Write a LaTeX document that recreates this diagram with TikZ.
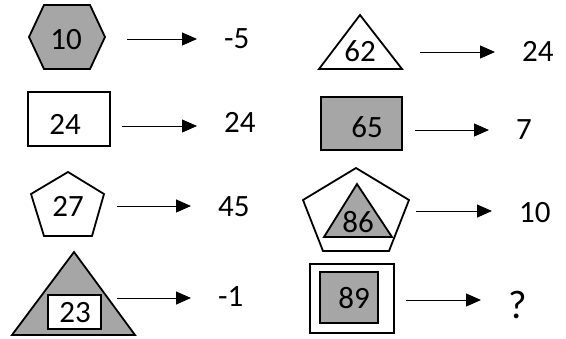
\documentclass[tikz,border=0pt]{standalone}
\usepackage{fontspec}
\setmainfont{Carlito}
\usepackage{xcolor}
\usetikzlibrary{arrows.meta, positioning, calc}
\definecolor{shapegray}{RGB}{166, 166, 166}
\definecolor{inkblack}{RGB}{0, 0, 0}

\begin{document}
\begin{tikzpicture}[
    x=1pt, y=-1pt,
    >={Triangle[length=15pt, width=13pt]},
    outline/.style={draw=inkblack, line width=1.8pt, line join=miter},
    grayshape/.style={outline, fill=shapegray},
    whiteshape/.style={outline, fill=white},
    num/.style={inner sep=0pt, font=\fontsize{31}{36}\selectfont},
    result/.style={num, anchor=base west},
    link/.style={->, inkblack, line width=1pt, shorten >=27pt},
]
    \useasboundingbox (0,0) rectangle (566,338);

    % --- LEFT: first column ---
    \draw[grayshape] (29,37) -- (44,5) -- (90,5) -- (105,37) -- (90,69) -- (44,69) -- cycle;
    \node[num] (hexnum) at (66,40) {10};
    \coordinate (hexout) at (127,39);
    \node[result] (hexres) at (224,48) {-5};
    \draw[link] (hexout) -- (hexout -| hexres.west);

    \draw[whiteshape] (28,92) rectangle (110,146);
    \node[num] (boxnum) at (65,124) {24};
    \coordinate (boxout) at (122,126);
    \node[result] (boxres) at (224,132) {24};
    \draw[link] (boxout) -- (boxout -| boxres.west);

    \draw[whiteshape] (68,172) -- (104,194) -- (92,236) -- (44,236) -- (31,194) -- cycle;
    \node[num] (pentnum) at (68,206) {27};
    \coordinate (pentout) at (117,206);
    \node[result] (pentres) at (218,216) {45};
    \draw[link] (pentout) -- (pentout -| pentres.west);

    \draw[grayshape] (74,252) -- (135,335) -- (12,335) -- cycle;
    \draw[whiteshape] (48,295) rectangle (101,329);
    \node[num] (trinum) at (75,313) {23};
    \coordinate (triout) at (117,298);
    \node[result] (trires) at (218,306) {-1};
    \draw[link] (triout) -- (triout -| trires.west);

    % --- RIGHT: second column ---
    \draw[whiteshape] (360,15) -- (402,69) -- (319,69) -- cycle;
    \node[num] (apexnum) at (360,51) {62};
    \coordinate (apexout) at (420,52);
    \node[result] (apexres) at (522,61) {24};
    \draw[link] (apexout) -- (apexout -| apexres.west);

    \draw[grayshape] (321,97) rectangle (402,150);
    \node[num] (slabnum) at (367,127) {65};
    \coordinate (slabout) at (415,130);
    \node[result] (slabres) at (516,139) {7};
    \draw[link] (slabout) -- (slabout -| slabres.west);

    \draw[whiteshape] (356,168) -- (409,200) -- (389,251) -- (323,251) -- (303,200) -- cycle;
    \draw[grayshape] (357,184) -- (392,237) -- (324,237) -- cycle;
    \node[num] (nestnum) at (358,222) {86};
    \coordinate (nestout) at (416,211);
    \node[result] (nestres) at (519,222) {10};
    \draw[link] (nestout) -- (nestout -| nestres.west);

    \draw[whiteshape] (310,264) rectangle (394,333);
    \draw[grayshape] (320,272) rectangle (378,323);
    \node[num] (framenum) at (354,298) {89};
    \coordinate (frameout) at (406,300);
    \node[result, font=\fontsize{40}{46}\selectfont] (frameres) at (508,318) {?};
    \draw[link] (frameout) -- (frameout -| frameres.west);
\end{tikzpicture}
\end{document}
